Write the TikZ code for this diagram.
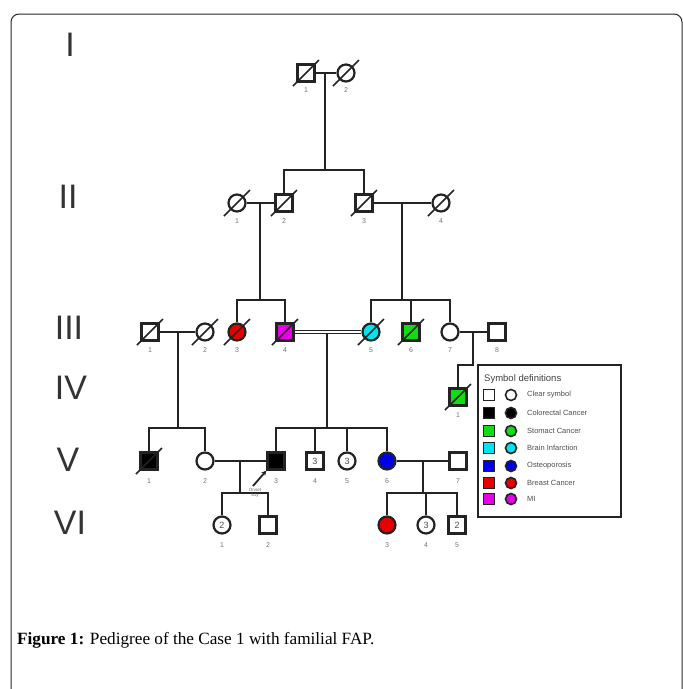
\documentclass[tikz,border=0pt]{standalone}
\usepackage{fontspec}
\setmainfont{Liberation Serif}
\setsansfont{Liberation Sans}
\usetikzlibrary{calc,arrows.meta}
\definecolor{pgreen}{RGB}{20,220,20}
\definecolor{pcyan}{RGB}{0,230,240}
\definecolor{pblue}{RGB}{0,0,230}
\definecolor{pred}{RGB}{230,0,0}
\definecolor{pmag}{RGB}{230,0,230}
\definecolor{lcol}{RGB}{35,35,35}
\newcommand{\deceased}[1]{\draw[line width=1.6pt, lcol] ($(#1.center)+(-13,13)$) -- ($(#1.center)+(13,-13)$);}
\tikzset{
 pl/.style={line width=2.2pt, draw=lcol},
 sym/.style={draw=lcol, line width=2.2pt, inner sep=0pt, minimum size=17pt, fill=white, font=\sffamily\fontsize{9}{9}\selectfont, text=black!70},
 male/.style={sym, rectangle},
 female/.style={sym, circle},
 num/.style={font=\sffamily\fontsize{7}{8}\selectfont, text=black!55, inner sep=0pt},
 gen/.style={font=\sffamily\fontsize{34}{34}\selectfont, text=black!80, inner sep=0pt},
 lsym/.style={draw=lcol, line width=1.6pt, inner sep=0pt, minimum size=11pt},
 ltext/.style={font=\sffamily\fontsize{7.5}{8}\selectfont, text=black!70, anchor=west, inner sep=0pt},
}
\begin{document}
\begin{tikzpicture}[x=1pt,y=-1pt]
\useasboundingbox (0,0) rectangle (683,689);
% frame
\draw[line width=1pt, black!85, rounded corners=8pt] (11,689) -- (11,14) -- (682,14) -- (682,689);
% generation labels
\node[gen] (gI) at (70,45) {I};
\node[gen] (gII) at (68,197) {II};
\node[gen] (gIII) at (69,328) {III};
\node[gen] (gIV) at (71,388) {IV};
\node[gen] (gV) at (68,460) {V};
\node[gen] (gVI) at (70,523) {VI};
% Generation I
\node[male] (I1) at (306,73) {};
\node[female] (I2) at (346,73) {};
\coordinate (m1) at (325,73);
\coordinate (s1) at (325,170);
% Generation II
\node[female] (II1) at (237,203) {};
\node[male] (II2) at (284,203) {};
\node[male] (II3) at (364,203) {};
\node[female] (II4) at (441,203) {};
\coordinate (m2) at (260,203);
\coordinate (s2) at (260,300);
\coordinate (m3) at (402,203);
\coordinate (s3) at (402,300);
% Generation III
\node[male] (III1) at (150,332) {};
\node[female] (III2) at (205,332) {};
\node[female, fill=pred] (III3) at (237,332) {};
\node[male, fill=pmag] (III4) at (285,332) {};
\node[female, fill=pcyan] (III5) at (371,332) {};
\node[male, fill=pgreen] (III6) at (411,332) {};
\node[female] (III7) at (450,332) {};
\node[male] (III8) at (497,332) {};
\coordinate (m4) at (178,332);
\coordinate (s4) at (178,428);
\coordinate (m5) at (327,332);
\coordinate (s5) at (327,428);
\coordinate (m6) at (473,332);
\coordinate (k6) at (473,365);
\coordinate (j6) at (458,365);
% Generation IV
\node[male, fill=pgreen] (IV1) at (458,397) {};
% Generation V
\node[male, fill=black] (V1) at (149,461) {};
\node[female] (V2) at (205,461) {};
\node[male, fill=black] (V3) at (276,461) {};
\node[male] (V4) at (315,461) {3};
\node[female] (V5) at (347,461) {3};
\node[female, fill=pblue] (V6) at (387,461) {};
\node[male] (V7) at (458,461) {};
\coordinate (m7) at (240,461);
\coordinate (s7) at (240,493);
\coordinate (m8) at (423,461);
\coordinate (s8) at (423,493);
% Generation VI
\node[female] (VI1) at (222,525) {2};
\node[male] (VI2) at (268,525) {};
\node[female, fill=pred] (VI3) at (387,525) {};
\node[female] (VI4) at (426,525) {3};
\node[male] (VI5) at (457,525) {2};

% lines
\begin{scope}[pl]
\draw (I1) -- (I2);
\draw (m1) -- (s1);
\draw (II2) |- (s1) -| (II3);
\draw (II1) -- (II2);
\draw (II3) -- (II4);
\draw (m2) -- (s2);
\draw (III3) |- (s2) -| (III4);
\draw (m3) -- (s3);
\draw (III5) |- (s3) -| (III7);
\draw (s3 -| III6) -- (III6);
\draw (III1) -- (III2);
\draw (III7) -- (III8);
\draw (m6) -- (k6) -- (j6) -- (IV1);
\draw (m4) -- (s4);
\draw (V1) |- (s4) -| (V2);
\draw (m5) -- (s5);
\draw (V3) |- (s5) -| (V6);
\draw (s5 -| V4) -- (V4);
\draw (s5 -| V5) -- (V5);
\draw (V2) -- (V3);
\draw (V6) -- (V7);
\draw (m7) -- (s7);
\draw (VI1) |- (s7) -| (VI2);
\draw (m8) -- (s8);
\draw (VI3) |- (s8) -| (VI5);
\draw (s8 -| VI4) -- (VI4);
\end{scope}
\draw[line width=1.5pt, lcol, double=white, double distance=1.5pt] (III4) -- (III5);
% deceased
\deceased{I1}\deceased{I2}
\deceased{II1}\deceased{II2}\deceased{II3}\deceased{II4}
\deceased{III1}\deceased{III2}\deceased{III3}\deceased{III4}\deceased{III5}\deceased{III6}
\deceased{IV1}\deceased{V1}
% numbers
\node[num] (nI1) at (306,90) {1};
\node[num] (nI2) at (346,90) {2};
\node[num] (nII1) at (237,221) {1};
\node[num] (nII2) at (284,221) {2};
\node[num] (nII3) at (364,221) {3};
\node[num] (nII4) at (441,221) {4};
\node[num] (nIII1) at (150,350) {1};
\node[num] (nIII2) at (205,350) {2};
\node[num] (nIII3) at (237,350) {3};
\node[num] (nIII4) at (285,350) {4};
\node[num] (nIII5) at (371,350) {5};
\node[num] (nIII6) at (411,350) {6};
\node[num] (nIII7) at (450,350) {7};
\node[num] (nIII8) at (497,350) {8};
\node[num] (nIV1) at (458,415) {1};
\node[num] (nV1) at (149,481) {1};
\node[num] (nV2) at (205,481) {2};
\node[num] (nV3) at (276,481) {3};
\node[num] (nV4) at (315,481) {4};
\node[num] (nV5) at (347,481) {5};
\node[num] (nV6) at (387,481) {6};
\node[num] (nV7) at (458,481) {7};
\node[num] (nVI1) at (222,545) {1};
\node[num] (nVI2) at (268,545) {2};
\node[num] (nVI3) at (387,545) {3};
\node[num] (nVI4) at (426,545) {4};
\node[num] (nVI5) at (457,545) {5};
% proband
\coordinate (pa) at (253,486);
\draw[line width=1.8pt, lcol, -{Stealth[length=5pt,width=5pt]}] (pa) -- (V3.south west);
\node[font=\sffamily\fontsize{4.5}{5}\selectfont, text=black!60, align=center, inner sep=0pt] (pt) at (255,493) {Onset\\51y};
% legend
\draw[line width=2.4pt, lcol] (478,365) rectangle (621,517);
\node[font=\sffamily\fontsize{9.5}{10}\selectfont, text=black!75, anchor=west, inner sep=0pt] (lt) at (484,379) {Symbol definitions};
\node[lsym, rectangle, fill=white] (ls1) at (489,395) {};
\node[lsym, circle, fill=white] (lc1) at (511,395) {};
\node[ltext] (lx1) at (527,395) {Clear symbol};
\node[lsym, rectangle, fill=black] (ls2) at (489,413) {};
\node[lsym, circle, fill=black] (lc2) at (511,413) {};
\node[ltext] (lx2) at (527,413) {Colorectal Cancer};
\node[lsym, rectangle, fill=pgreen] (ls3) at (489,431) {};
\node[lsym, circle, fill=pgreen] (lc3) at (511,431) {};
\node[ltext] (lx3) at (527,431) {Stomact Cancer};
\node[lsym, rectangle, fill=pcyan] (ls4) at (489,448) {};
\node[lsym, circle, fill=pcyan] (lc4) at (511,448) {};
\node[ltext] (lx4) at (527,448) {Brain Infarction};
\node[lsym, rectangle, fill=pblue] (ls5) at (489,466) {};
\node[lsym, circle, fill=pblue] (lc5) at (511,466) {};
\node[ltext] (lx5) at (527,466) {Osteoporosis};
\node[lsym, rectangle, fill=pred] (ls6) at (489,483) {};
\node[lsym, circle, fill=pred] (lc6) at (511,483) {};
\node[ltext] (lx6) at (527,483) {Breast Cancer};
\node[lsym, rectangle, fill=pmag] (ls7) at (489,499) {};
\node[lsym, circle, fill=pmag] (lc7) at (511,499) {};
\node[ltext] (lx7) at (527,499) {MI};
% caption
\node[anchor=base west, inner sep=0pt, font=\fontsize{17.2}{19}\selectfont] (cap) at (17,644) {\textbf{Figure 1:} Pedigree of the Case 1 with familial FAP.};
\end{tikzpicture}
\end{document}
